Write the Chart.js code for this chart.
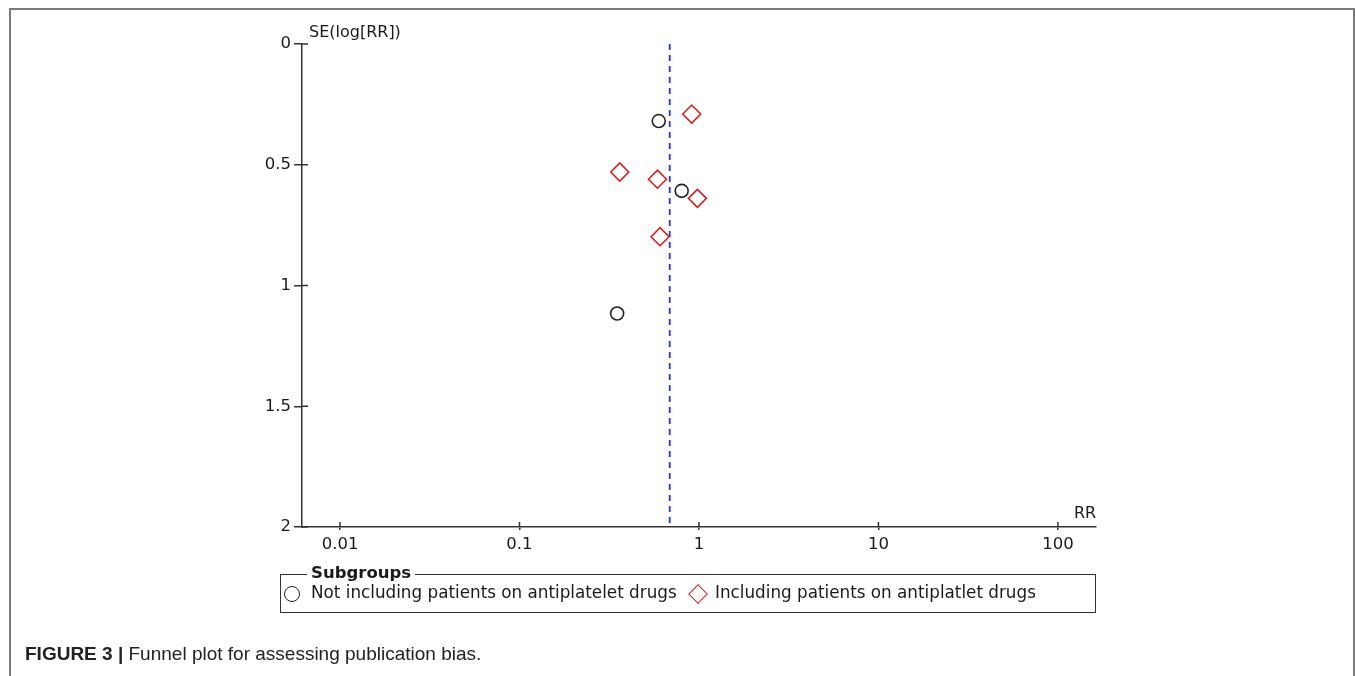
<!DOCTYPE html>
<html>
<head>
<meta charset="utf-8">
<script src="https://cdn.jsdelivr.net/npm/chart.js@4.4.1/dist/chart.umd.min.js"></script>
<style>
    body { margin: 0; background: #fff; width: 1355px; height: 676px; overflow: hidden; position: relative; font-family: "DejaVu Sans", sans-serif; color: #1a1a1a; }
    #frame { position: absolute; left: 9px; top: 8px; width: 1346px; height: 700px; border: 2px solid #7a7a7a; border-bottom: none; box-sizing: border-box; }
    #chart { position: absolute; left: 0; top: 0; }
    .axisTitle { position: absolute; font-size: 16px; white-space: nowrap; }
    #legendBox { position: absolute; left: 280px; top: 574px; width: 816px; height: 39px; border: 1.5px solid #333; box-sizing: border-box; }
    #legendTitle { position: absolute; left: 26px; top: -11px; padding: 0 4px; background: #fff; font-weight: bold; font-size: 16.5px; line-height: 18px; }
    .item { position: absolute; top: 8px; font-size: 16.8px; line-height: 19px; white-space: nowrap; }
    .mk { position: absolute; box-sizing: border-box; }
    #caption { position: absolute; left: 25px; top: 643px; font-family: "Liberation Sans", Arial, sans-serif; font-size: 19px; color: #222; }
</style>
</head>
<body>
<div id="frame"></div>
<canvas id="chart" width="1355" height="676"></canvas>
<div class="axisTitle" style="left:309px; top:22px;">SE(log[RR])</div>
<div class="axisTitle" style="left:1074px; top:503px;">RR</div>
<div id="legendBox">
    <span id="legendTitle">Subgroups</span>
    <div id="legendItems"></div>
</div>
<div id="caption"><b>FIGURE 3 |</b> Funnel plot for assessing publication bias.</div>
<script>
// Subgroup labels
const groupLabels = ['Not including patients on antiplatelet drugs', 'Including patients on antiplatlet drugs'];

// Not including patients on antiplatelet drugs (circles)
const notInclRR = [0.597, 0.801, 0.35];
const notInclSE = [0.319, 0.608, 1.116];

// Including patients on antiplatelet drugs (diamonds)
const inclRR = [0.911, 0.362, 0.587, 0.98, 0.607];
const inclSE = [0.29, 0.53, 0.56, 0.639, 0.798];

// Pooled estimate (dashed line)
const pooledRR = 0.687;
const seRange = [0, 2];

// Axis ticks
const xTicks = [0.01, 0.1, 1, 10, 100];
const xTickLabels = ['0.01', '0.1', '1', '10', '100'];
const yTicks = [0, 0.5, 1, 1.5, 2];
const yTickLabels = ['0', '0.5', '1', '1.5', '2'];

const toPoints = (xs, ys) => xs.map((x, i) => ({ x: x, y: ys[i] }));

// Tick marks that cross into the plot area, like the original
const innerTicks = {
    id: 'innerTicks',
    afterDraw(chart) {
        const { ctx, chartArea, scales } = chart;
        ctx.save();
        ctx.strokeStyle = '#333';
        ctx.lineWidth = 1.5;
        ctx.beginPath();
        scales.x.ticks.forEach(t => {
            const px = scales.x.getPixelForValue(t.value);
            ctx.moveTo(px, chartArea.bottom);
            ctx.lineTo(px, chartArea.bottom - 5);
        });
        scales.y.ticks.forEach(t => {
            const py = scales.y.getPixelForValue(t.value);
            ctx.moveTo(chartArea.left, py);
            ctx.lineTo(chartArea.left + 6, py);
        });
        ctx.stroke();
        ctx.restore();
    }
};

const ctx = document.getElementById('chart').getContext('2d');
new Chart(ctx, {
    type: 'scatter',
    data: {
        datasets: [
            {
                label: groupLabels[0],
                data: toPoints(notInclRR, notInclSE),
                pointStyle: 'circle',
                pointRadius: 6.5,
                borderColor: '#222',
                backgroundColor: 'rgba(0,0,0,0)',
                borderWidth: 1.6
            },
            {
                label: groupLabels[1],
                data: toPoints(inclRR, inclSE),
                pointStyle: 'rectRot',
                pointRadius: 9,
                borderColor: '#d42020',
                backgroundColor: 'rgba(0,0,0,0)',
                borderWidth: 1.6
            },
            {
                label: 'Pooled',
                type: 'line',
                data: seRange.map(s => ({ x: pooledRR, y: s })),
                borderColor: '#2233ee',
                borderWidth: 1.8,
                borderDash: [6, 5],
                pointRadius: 0,
                fill: false
            }
        ]
    },
    options: {
        responsive: false,
        animation: false,
        layout: { padding: { left: 0, top: 44, right: 259, bottom: 109 } },
        plugins: {
            legend: { display: false },
            tooltip: { enabled: false }
        },
        scales: {
            x: {
                type: 'logarithmic',
                min: 0.00614,
                max: 163,
                afterBuildTicks: (scale) => { scale.ticks = xTicks.map(v => ({ value: v })); },
                afterFit: (scale) => { scale.height = 40; },
                border: { color: '#333', width: 1.5 },
                grid: { drawOnChartArea: false, tickLength: 3, color: '#333', lineWidth: 1.5 },
                ticks: {
                    autoSkip: false,
                    maxRotation: 0,
                    padding: 5,
                    color: '#1a1a1a',
                    font: { family: 'DejaVu Sans', size: 16.5 },
                    callback: (v) => {
                        const i = xTicks.indexOf(v);
                        return i >= 0 ? xTickLabels[i] : '';
                    }
                }
            },
            y: {
                type: 'linear',
                reverse: true,
                min: 0,
                max: 2,
                afterBuildTicks: (scale) => { scale.ticks = yTicks.map(v => ({ value: v })); },
                afterFit: (scale) => { scale.width = 302; },
                border: { color: '#333', width: 1.5 },
                grid: { drawOnChartArea: false, tickLength: 8, color: '#333', lineWidth: 1.5 },
                ticks: {
                    padding: 3,
                    color: '#1a1a1a',
                    font: { family: 'DejaVu Sans', size: 16.5 },
                    callback: (v) => {
                        const i = yTicks.indexOf(v);
                        return i >= 0 ? yTickLabels[i] : '';
                    }
                }
            }
        }
    },
    plugins: [innerTicks]
});

// Legend built from the subgroup labels
const legendItems = document.getElementById('legendItems');
legendItems.innerHTML = `
    <span class="mk" style="left:3px; top:11px; width:16px; height:16px; border:1.6px solid #222; border-radius:50%;"></span>
    <div class="item" style="left:30px;">${groupLabels[0]}</div>
    <span class="mk" style="left:410px; top:12px; width:14px; height:14px; border:1.6px solid #d42020; transform:rotate(45deg);"></span>
    <div class="item" style="left:434px;">${groupLabels[1]}</div>
`;
</script>
</body>
</html>
